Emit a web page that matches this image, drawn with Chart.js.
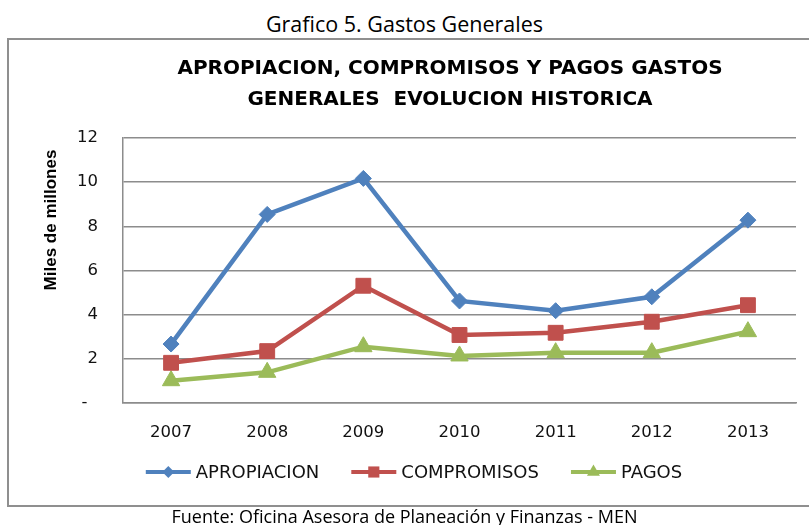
<!DOCTYPE html>
<html>
<head>
<meta charset="utf-8">
<script src="https://cdn.jsdelivr.net/npm/chart.js@4.4.1/dist/chart.umd.min.js"></script>
<style>
    body { margin: 0; background: #fff; }
    #wrap { position: relative; width: 809px; height: 525px; overflow: hidden; }
    #pageTitle, #source {
        position: absolute; left: 0; width: 809px; text-align: center;
        font-family: 'Open Sans', sans-serif; color: #000;
    }
    #pageTitle { top: 9px; height: 30px; line-height: 30px; font-size: 21.5px; }
    #source { top: 502px; height: 28px; line-height: 28px; font-size: 18px; }
    #frame {
        position: absolute; left: 7px; top: 38px; width: 820px; height: 465px;
        border: 2px solid #8f8f8f; pointer-events: none;
    }
    #chart { position: absolute; left: 0; top: 0; }
</style>
</head>
<body>
<div id="wrap">
    <div id="pageTitle">Grafico 5. Gastos Generales</div>
    <div id="frame"></div>
    <canvas id="chart" width="809" height="525"></canvas>
    <div id="source">Fuente: Oficina Asesora de Planeación y Finanzas - MEN</div>
</div>
<script>
// Data (miles de millones)
const years = ['2007', '2008', '2009', '2010', '2011', '2012', '2013'];
const apropiacion = [2.67, 8.54, 10.17, 4.62, 4.18, 4.81, 8.28];
const compromisos = [1.82, 2.35, 5.31, 3.08, 3.18, 3.68, 4.43];
const pagos = [1.01, 1.39, 2.55, 2.13, 2.28, 2.28, 3.23];
const yTicks = [0, 2, 4, 6, 8, 10, 12];

const chartTitle = ['APROPIACION, COMPROMISOS Y PAGOS GASTOS', 'GENERALES  EVOLUCION HISTORICA'];
const yTitle = 'Miles de millones';

const blue = '#4F81BD';
const red = '#C0504D';
const green = '#9BBB59';
const gridColor = '#8c8c8c';
const textColor = '#111';

// Small marker shapes, used for the hand drawn legend
function drawMarker(ctx, style, x, y, r, color) {
    ctx.fillStyle = color;
    ctx.beginPath();
    if (style === 'rectRot') {
        ctx.moveTo(x, y - r); ctx.lineTo(x + r, y); ctx.lineTo(x, y + r); ctx.lineTo(x - r, y);
    } else if (style === 'rect') {
        const s = r * Math.SQRT1_2;
        ctx.rect(x - s, y - s, 2 * s, 2 * s);
    } else {
        ctx.moveTo(x, y - r);
        ctx.lineTo(x + r * 0.866, y + r * 0.5);
        ctx.lineTo(x - r * 0.866, y + r * 0.5);
    }
    ctx.closePath();
    ctx.fill();
}

// Title, rotated y title and Excel-like legend (line + marker)
const decor = {
    id: 'decor',
    afterDraw(chart) {
        const ctx = chart.ctx;
        ctx.save();
        ctx.fillStyle = '#000';
        ctx.textAlign = 'center';
        ctx.textBaseline = 'middle';
        ctx.font = 'bold 20px "DejaVu Sans"';
        ctx.fillText(chartTitle[0], 450, 69);
        ctx.fillText(chartTitle[1], 450, 100);

        ctx.save();
        ctx.translate(51, 220);
        ctx.rotate(-Math.PI / 2);
        ctx.font = 'bold 17px "Liberation Sans"';
        ctx.fillText(yTitle, 0, 0);
        ctx.restore();

        ctx.font = '18px "DejaVu Sans"';
        ctx.textAlign = 'left';
        const items = chart.data.datasets;
        const lineLen = 45, textGap = 5, itemGap = 32, y = 472;
        let total = 0;
        items.forEach(d => { total += lineLen + textGap + ctx.measureText(d.label).width; });
        total += itemGap * (items.length - 1);
        let x = 414 - total / 2;
        items.forEach(d => {
            ctx.strokeStyle = d.borderColor;
            ctx.lineWidth = 4;
            ctx.beginPath();
            ctx.moveTo(x, y);
            ctx.lineTo(x + lineLen, y);
            ctx.stroke();
            drawMarker(ctx, d.pointStyle, x + lineLen / 2, y, d.pointRadius * 0.75, d.borderColor);
            ctx.fillStyle = textColor;
            ctx.fillText(d.label, x + lineLen + textGap, y + 1);
            x += lineLen + textGap + ctx.measureText(d.label).width + itemGap;
        });
        ctx.restore();
    }
};

const ctx = document.getElementById('chart').getContext('2d');
const chart = new Chart(ctx, {
    type: 'line',
    data: {
        labels: years,
        datasets: [
            {
                label: 'APROPIACION',
                data: apropiacion,
                borderColor: blue,
                backgroundColor: blue,
                borderWidth: 4.5,
                pointStyle: 'rectRot',
                pointRadius: 8,
                pointBorderWidth: 1,
                tension: 0,
                fill: false
            },
            {
                label: 'COMPROMISOS',
                data: compromisos,
                borderColor: red,
                backgroundColor: red,
                borderWidth: 4.5,
                pointStyle: 'rect',
                pointRadius: 10.5,
                pointBorderWidth: 1,
                tension: 0,
                fill: false
            },
            {
                label: 'PAGOS',
                data: pagos,
                borderColor: green,
                backgroundColor: green,
                borderWidth: 4.5,
                pointStyle: 'triangle',
                pointRadius: 10,
                pointBorderWidth: 1,
                tension: 0,
                fill: false
            }
        ]
    },
    options: {
        responsive: false,
        animation: false,
        layout: { padding: { top: 138, right: 13, bottom: 0, left: 0 } },
        plugins: {
            legend: { display: false },
            title: { display: false },
            tooltip: { enabled: false }
        },
        scales: {
            x: {
                offset: true,
                grid: { display: false },
                border: { display: true, color: gridColor, width: 1.5 },
                ticks: {
                    color: textColor,
                    padding: 12,
                    font: { family: 'DejaVu Sans', size: 16.5 }
                },
                afterFit(scale) { scale.height = 122; }
            },
            y: {
                min: 0,
                max: 12,
                afterBuildTicks(scale) { scale.ticks = yTicks.map(v => ({ value: v })); },
                grid: { color: gridColor, lineWidth: 1.5, drawTicks: false },
                border: { display: true, color: gridColor, width: 1.5 },
                ticks: {
                    color: textColor,
                    padding: 25,
                    font: { family: 'DejaVu Sans', size: 16.5 },
                    callback: v => v === 0 ? '-  ' : String(v)
                },
                afterFit(scale) { scale.width = 123; }
            }
        }
    },
    plugins: [decor]
});
</script>
</body>
</html>
